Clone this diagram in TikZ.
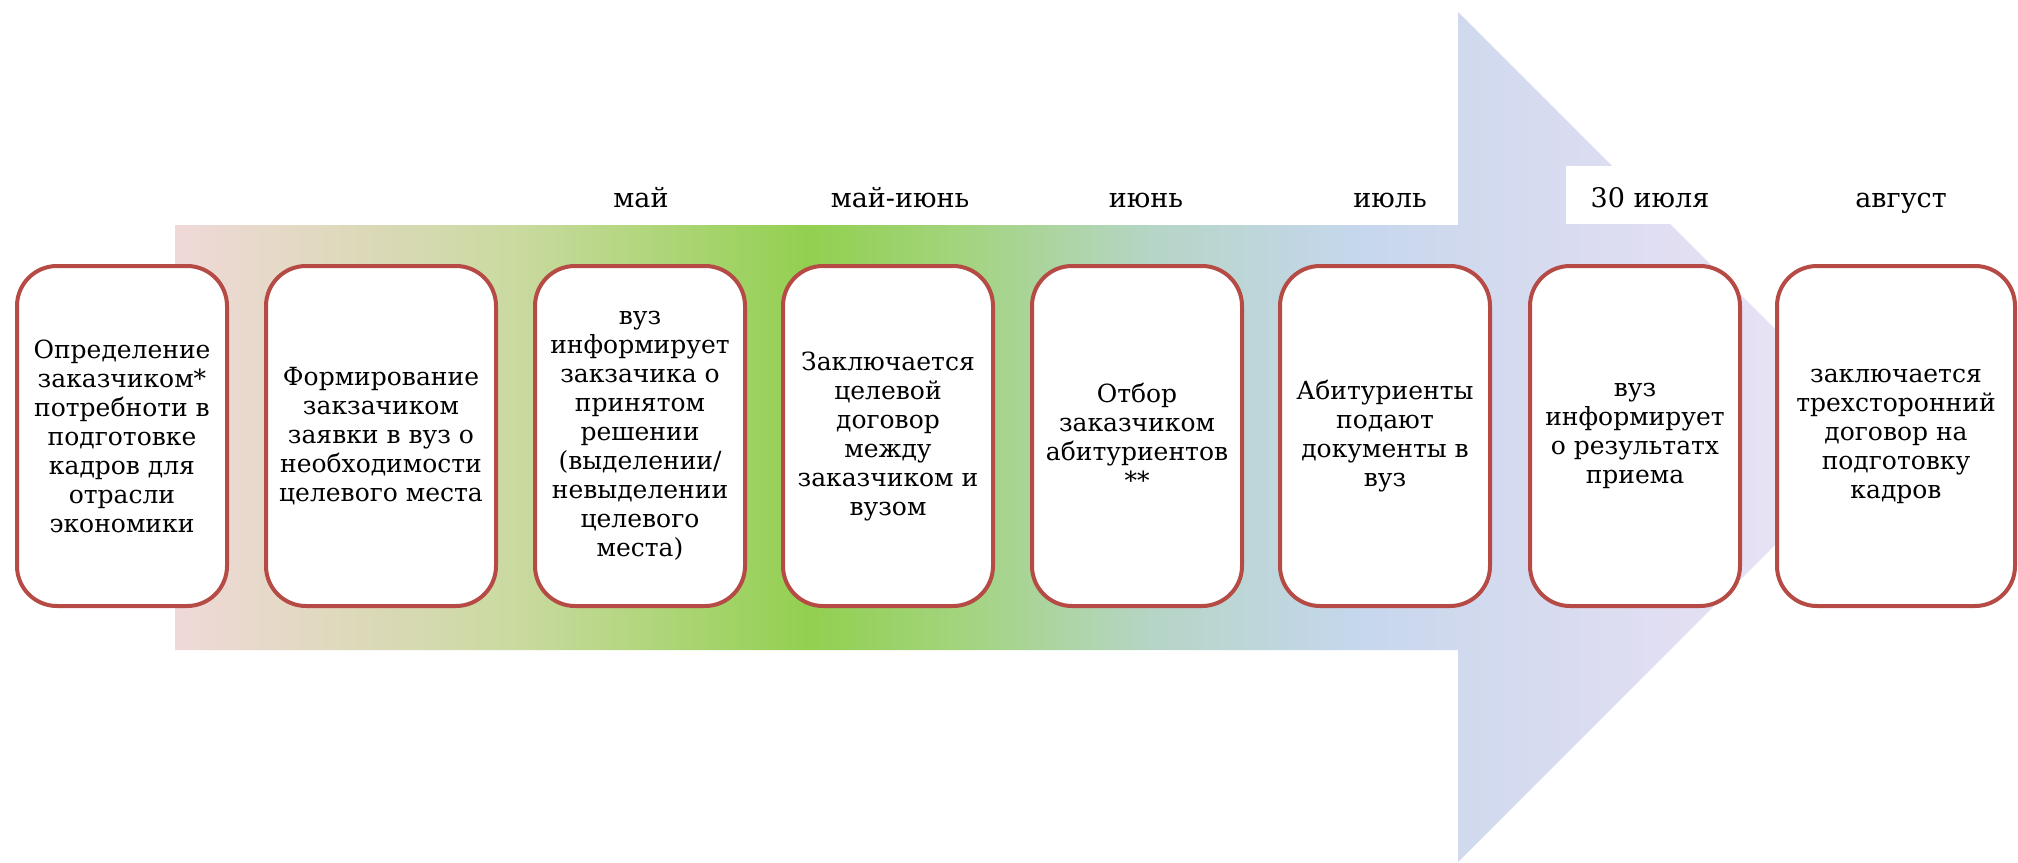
\documentclass[tikz,border=0pt]{standalone}
\usepackage{fontspec}
\setmainfont{DejaVu Serif}
\usepackage{tikz}
\usetikzlibrary{shapes, positioning}

\definecolor{rimred}{HTML}{B64A45}
\definecolor{fadeA}{HTML}{EFD9D9}
\definecolor{fadeB}{HTML}{E3D9C3}
\definecolor{fadeC}{HTML}{C9DA9F}
\definecolor{fadeD}{HTML}{92D050}
\definecolor{fadeE}{HTML}{A3D47E}
\definecolor{fadeF}{HTML}{B5D5C5}
\definecolor{fadeG}{HTML}{C6D7EE}
\definecolor{fadeH}{HTML}{D0D9EE}
\definecolor{fadeI}{HTML}{E3DFF3}
\definecolor{fadeJ}{HTML}{EDE4F5}
\pgfdeclarehorizontalshading{arrowfade}{100bp}{color(0bp)=(fadeA); color(25bp)=(fadeA);
  color(28.7bp)=(fadeB); color(35.1bp)=(fadeC); color(43.6bp)=(fadeD); color(48bp)=(fadeE);
  color(53.5bp)=(fadeF); color(59.8bp)=(fadeG); color(62.6bp)=(fadeH); color(69.6bp)=(fadeI);
  color(75bp)=(fadeJ); color(100bp)=(fadeJ)}

\begin{document}
\begin{tikzpicture}[x=1pt,y=-1pt]
        \useasboundingbox (0,0) rectangle (2018,862);
        \shade[shading=arrowfade] (175,225) -- (1458,225) -- (1458,12) -- (1883,437)
          -- (1458,862) -- (1458,650) -- (175,650) -- cycle;
        \begin{scope}[every node/.style={draw=rimred,line width=4pt,fill=white,rounded corners=40pt,
            minimum width=210pt,minimum height=340pt,inner sep=0pt,align=center,
            font=\fontsize{25}{29}\selectfont}]
          \node (s1) at (122,436) {Определение\\заказчиком*\\потребноти в\\подготовке\\кадров для\\отрасли\\экономики};
          \node[minimum width=230pt] (s2) at (381,436) {Формирование\\закзачиком\\заявки в вуз о\\необходимости\\целевого места};
          \node (s3) at (640,436) {вуз\\информирует\\закзачика о\\принятом\\решении\\(выделении/\\невыделении\\целевого\\места)};
          \node (s4) at (888,436) {Заключается\\целевой\\договор\\между\\заказчиком и\\вузом};
          \node (s5) at (1137,436) {Отбор\\заказчиком\\абитуриентов\\**};
          \node (s6) at (1385,436) {Абитуриенты\\подают\\документы в\\вуз};
          \node (s7) at (1635,436) {вуз\\информирует\\о результатх\\приема};
          \node[minimum width=238pt] (s8) at (1896,436) {заключается\\трехсторонний\\договор на\\подготовку\\кадров};
        \end{scope}
        \begin{scope}[every node/.style={fill=white,text height=24pt,text depth=0pt,minimum height=58pt,
            inner xsep=25pt,inner ysep=0pt,anchor=base,font=\fontsize{27}{27}\selectfont}]
          \node (t3) at (641,207) {май};
          \node (t4) at (900,207) {май-июнь};
          \node (t5) at (1146,207) {июнь};
          \node (t6) at (1390,207) {июль};
          \node (t7) at (1650,207) {30 июля};
          \node (t8) at (1901,207) {август};
        \end{scope}
      \end{tikzpicture}
\end{document}
